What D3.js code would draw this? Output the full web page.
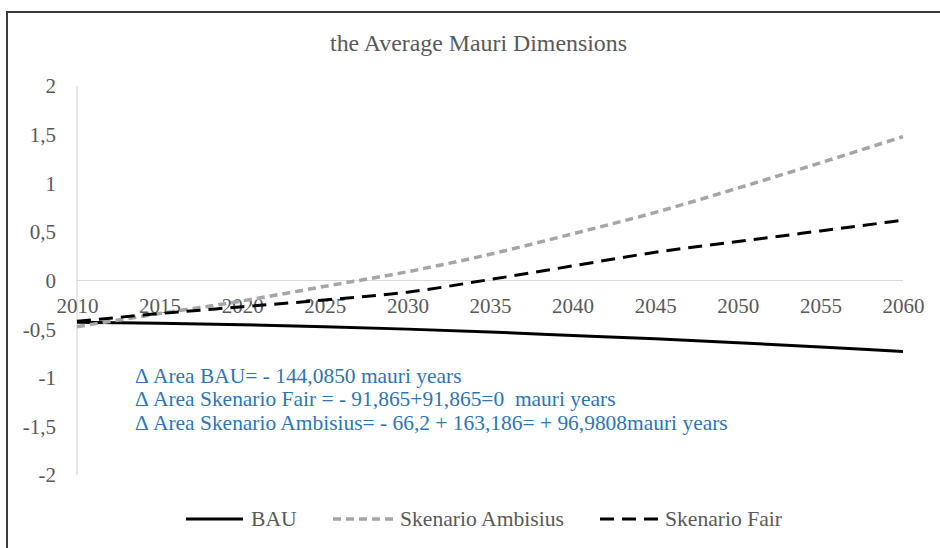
<!DOCTYPE html>
<html>
<head>
<meta charset="utf-8">
<script src="https://cdn.jsdelivr.net/npm/d3@7/dist/d3.min.js"></script>
<style>
  html, body { margin: 0; padding: 0; background: #ffffff; }
  svg { display: block; }
</style>
</head>
<body>
<svg id="chart" width="940" height="548"></svg>
<script>
// ---- data ----
const years = [2010, 2015, 2020, 2025, 2030, 2035, 2040, 2045, 2050, 2055, 2060];
const bau = [-0.43, -0.44, -0.455, -0.475, -0.50, -0.53, -0.565, -0.60, -0.64, -0.685, -0.73];
const ambisius = [-0.475, -0.34, -0.21, -0.06, 0.09, 0.27, 0.48, 0.70, 0.95, 1.21, 1.48];
const fair = [-0.42, -0.34, -0.27, -0.20, -0.12, 0.01, 0.15, 0.29, 0.40, 0.51, 0.62];
const yTicks = [2, 1.5, 1, 0.5, 0, -0.5, -1, -1.5, -2];
const xTicks = [2010, 2015, 2020, 2025, 2030, 2035, 2040, 2045, 2050, 2055, 2060];
const seriesNames = ["BAU", "Skenario Ambisius", "Skenario Fair"];
const title = "the Average Mauri Dimensions";
const notes = [
  "\u0394 Area BAU= - 144,0850 mauri years",
  "\u0394 Area Skenario Fair = - 91,865+91,865=0  mauri years",
  "\u0394 Area Skenario Ambisius= - 66,2 + 163,186= + 96,9808mauri years"
];

// ---- layout ----
const FONT = "'Liberation Serif', Tinos, 'Times New Roman', Times, 'Noto Serif', 'DejaVu Serif', serif";
const svg = d3.select("#chart");
const x = d3.scaleLinear().domain([2010, 2060]).range([77, 903]);
const y = d3.scaleLinear().domain([-2, 2]).range([475, 86]);
const labelColor = "#595959";

// fit a text's font size so that its rendered width matches a target width
function fit(sel, target) {
  sel.attr("font-size", 20);
  const w = sel.node().getComputedTextLength();
  const fs = w > 0 ? 20 * target / w : 20;
  sel.attr("font-size", fs);
  return fs;
}

// outer border
svg.append("rect").attr("x", 7).attr("y", 12).attr("width", 960).attr("height", 560)
  .attr("fill", "none").attr("stroke", "#3a3a3a").attr("stroke-width", 2);

// title
const tt = svg.append("text").attr("x", 478.5).attr("y", 51).attr("text-anchor", "middle")
  .style("font-family", FONT).attr("fill", labelColor).text(title);
fit(tt, 297);

// vertical axis line
svg.append("line").attr("x1", x(2010)).attr("x2", x(2010)).attr("y1", y(2)).attr("y2", y(-2))
  .attr("stroke", "#d9d9d9").attr("stroke-width", 1.2);
// zero line (category axis)
svg.append("line").attr("x1", x(2010)).attr("x2", x(2060)).attr("y1", y(0)).attr("y2", y(0))
  .attr("stroke", "#d9d9d9").attr("stroke-width", 1.2);

// measure the axis label size from the width of "2060" (about 42px)
const probe = svg.append("text").style("font-family", FONT).text("2060");
const axisFs = fit(probe, 42);
probe.remove();

// y axis labels
const yAxis = d3.axisLeft(y).tickValues(yTicks).tickSize(0).tickPadding(0)
  .tickFormat(d => String(d).replace(".", ","));
const gy = svg.append("g").attr("transform", "translate(56,0)").call(yAxis);
gy.select(".domain").remove();
gy.selectAll("text").attr("font-size", axisFs).attr("fill", labelColor)
  .style("font-family", FONT).attr("dy", "0.33em");

// x axis labels
const xAxis = d3.axisBottom(x).tickValues(xTicks).tickSize(0).tickPadding(0)
  .tickFormat(d => String(d));
const gx = svg.append("g").attr("transform", "translate(0,298)").call(xAxis);
gx.select(".domain").remove();
gx.selectAll("text").attr("font-size", axisFs).attr("fill", labelColor)
  .style("font-family", FONT).attr("dy", "0.7em");

// lines
const styles = [
  { data: bau, color: "#000000", width: 3, dash: null },
  { data: ambisius, color: "#a6a6a6", width: 3.5, dash: "8,5" },
  { data: fair, color: "#000000", width: 3, dash: "14,8" }
];
const line = d3.line().x((d, i) => x(years[i])).y(d => y(d)).curve(d3.curveMonotoneX);
styles.forEach(s => {
  svg.append("path").datum(s.data).attr("d", line).attr("fill", "none")
    .attr("stroke", s.color).attr("stroke-width", s.width)
    .attr("stroke-dasharray", s.dash).attr("stroke-linejoin", "round");
});

// annotation text (width of the last line is about 593px)
const noteSel = notes.map((t, i) => svg.append("text").attr("x", 135).attr("y", 383 + i * 23.3)
    .style("font-family", FONT).attr("fill", "#2e75b6")
    .style("white-space", "pre").text(t));
const noteFs = fit(noteSel[2], 593);
noteSel.forEach(s => s.attr("font-size", noteFs));

// legend
const legendPos = [
  { x1: 186, x2: 243, tx: 251 },
  { x1: 333, x2: 395, tx: 400 },
  { x1: 600, x2: 658, tx: 665 }
];
let legFs = null;
styles.forEach((s, i) => {
  const p = legendPos[i];
  svg.append("line").attr("x1", p.x1).attr("x2", p.x2).attr("y1", 519).attr("y2", 519)
    .attr("stroke", s.color).attr("stroke-width", s.width).attr("stroke-dasharray", s.dash);
  const t = svg.append("text").attr("x", p.tx).attr("y", 526)
    .style("font-family", FONT).attr("fill", labelColor).text(seriesNames[i]);
  if (i === 1) legFs = fit(t, 164);
});
svg.selectAll("text.leg");
svg.selectAll("text").filter(function () { return seriesNames.includes(this.textContent); })
  .attr("font-size", legFs);
</script>
</body>
</html>
